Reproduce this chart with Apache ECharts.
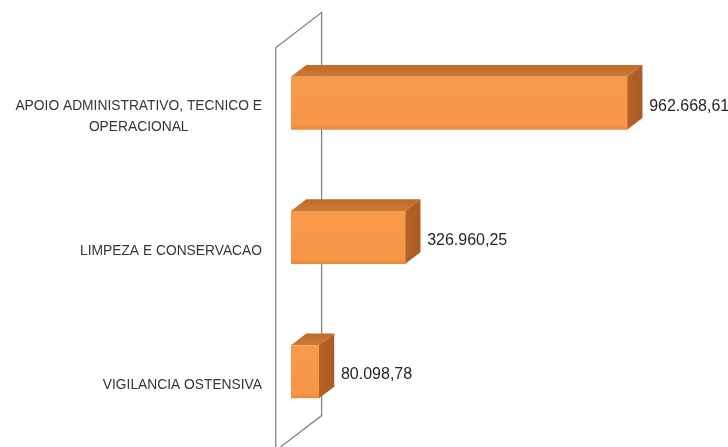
<!DOCTYPE html>
<html>
<head>
<meta charset="utf-8">
<script src="https://cdn.jsdelivr.net/npm/echarts@6/dist/echarts.min.js"></script>
<style>
  html, body { margin: 0; padding: 0; background: #ffffff; }
  #chart { width: 728px; height: 447px; }
</style>
</head>
<body>
<div id="chart"></div>
<script>
// Contract categories (top to bottom) and their amounts in R$
const categories = [
  'APOIO ADMINISTRATIVO, TECNICO E\nOPERACIONAL',
  'LIMPEZA E CONSERVACAO',
  'VIGILANCIA OSTENSIVA'
];
const values = [962668.61, 326960.25, 80098.78];

// Depth of each 3D box (pixels along the receding direction)
const DEPTH_X = 15.3;
const DEPTH_Y = 11.7;

const LABEL_FONT = '"Liberation Sans", Arial, sans-serif';

// Brazilian number format: 962.668,61
function formatBR(v) {
  const parts = v.toFixed(2).split('.');
  const intPart = parts[0].replace(/\B(?=(\d{3})+(?!\d))/g, '.');
  return intPart + ',' + parts[1];
}

const chart = echarts.init(document.getElementById('chart'), null, { renderer: 'canvas' });

function renderWall(params, api) {
  const cs = params.coordSys;
  const x0 = cs.x, top = cs.y, bottom = cs.y + cs.height;
  // wall reaches one box-depth in front of the bars and two behind
  const fx = x0 - DEPTH_X, fTop = top + DEPTH_Y, fBot = bottom + DEPTH_Y;
  const bx = x0 + 2 * DEPTH_X, bTop = top - 2 * DEPTH_Y, bBot = bottom - 2 * DEPTH_Y;
  return {
    type: 'polygon',
    shape: { points: [[fx, fTop], [bx, bTop], [bx, bBot], [fx, fBot]] },
    style: { fill: 'rgba(255,255,255,0)', stroke: '#858585', lineWidth: 1.3 },
    silent: true
  };
}

function renderBar(params, api) {
  const idx = api.value(1);
  const start = api.coord([0, idx]);
  const end = api.coord([api.value(0), idx]);
  const band = api.size([0, 1])[1];
  const h = band * 0.395;
  const x0 = start[0], x1 = end[0];
  const y0 = start[1] - h / 2, y1 = y0 + h;
  const dx = DEPTH_X, dy = DEPTH_Y;
  return {
    type: 'group',
    children: [
      {
        type: 'polygon',
        shape: { points: [[x0, y0], [x0 + dx, y0 - dy], [x1 + dx, y0 - dy], [x1, y0]] },
        style: {
          fill: new echarts.graphic.LinearGradient(0, 0, 0, 1, [
            { offset: 0, color: '#BE6A28' },
            { offset: 1, color: '#CB7A34' }
          ])
        }
      },
      {
        type: 'polygon',
        shape: { points: [[x1, y0], [x1 + dx, y0 - dy], [x1 + dx, y1 - dy], [x1, y1]] },
        style: {
          fill: new echarts.graphic.LinearGradient(0, 0, 1, 0, [
            { offset: 0, color: '#B66426' },
            { offset: 1, color: '#A95B22' }
          ])
        }
      },
      {
        type: 'rect',
        shape: { x: x0, y: y0, width: x1 - x0, height: h },
        style: {
          fill: new echarts.graphic.LinearGradient(0, 0, 0, 1, [
            { offset: 0, color: '#F89A4C' },
            { offset: 0.9, color: '#F79646' },
            { offset: 1, color: '#E88838' }
          ])
        }
      },
      {
        type: 'text',
        style: {
          x: x1 + 22,
          y: start[1] + 3,
          text: formatBR(api.value(0)),
          fill: '#262626',
          font: '16px "Liberation Sans", Arial, sans-serif',
          align: 'left',
          verticalAlign: 'middle'
        }
      }
    ]
  };
}

chart.setOption({
  animation: false,
  backgroundColor: '#ffffff',
  grid: {
    left: 291, right: 18, top: 36, height: 403,
    containLabel: false,
    outerBoundsMode: 'none'
  },
  xAxis: {
    type: 'value',
    min: 0,
    max: 1200000,
    show: false
  },
  yAxis: {
    type: 'category',
    data: categories,
    inverse: true,
    axisLine: { show: false },
    axisTick: { show: false },
    splitLine: { show: false },
    axisLabel: {
      margin: 29,
      color: '#363636',
      fontFamily: LABEL_FONT,
      fontSize: 13.8,
      lineHeight: 21.5,
      padding: [27, 0, 0, 0],
      formatter: function (value) {
        return value.split('\n').map(function (line) { return '{c|' + line + '}'; }).join('\n');
      },
      rich: {
        c: {
          align: 'center',
          color: '#363636',
          fontFamily: LABEL_FONT,
          fontSize: 13.8,
          lineHeight: 21.5
        }
      }
    }
  },
  series: [
    {
      type: 'custom',
      name: 'wall',
      renderItem: renderWall,
      data: [[0, 0]],
      encode: { x: 0, y: 1 },
      z: 1,
      silent: true
    },
    {
      type: 'custom',
      name: 'valor',
      renderItem: renderBar,
      data: values.map(function (v, i) { return [v, i]; }),
      encode: { x: 0, y: 1 },
      z: 2
    }
  ]
});
</script>
</body>
</html>
